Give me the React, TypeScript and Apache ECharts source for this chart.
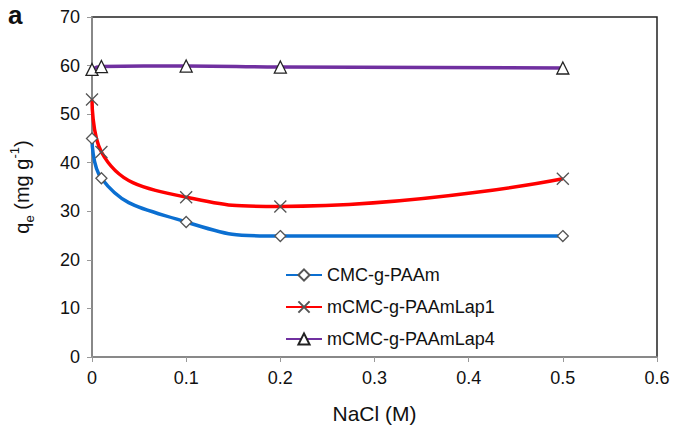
import React, { useEffect, useRef } from "react";
import * as echarts from "echarts";

const xValues = [0, 0.01, 0.1, 0.2, 0.5];
const cmcValues = [45, 36.8, 27.8, 24.9, 24.9];
const lap1Values = [53, 42.2, 32.9, 31, 36.7];
const lap4Values = [59.2, 59.8, 59.9, 59.7, 59.5];
const seriesNames = ["CMC-g-PAAm", "mCMC-g-PAAmLap1", "mCMC-g-PAAmLap4"];
const xTicks = [0, 0.1, 0.2, 0.3, 0.4, 0.5, 0.6];

const FONT = "Liberation Sans, Arial, sans-serif";
const X_PATH = "path://M0,0L10,10M10,0L0,10";

export default function App() {
  const ref = useRef<HTMLDivElement>(null);
  useEffect(() => {
    if (!ref.current) return;
    document.body.style.margin = "0";
    const chart = echarts.init(ref.current, undefined, { renderer: "svg" });
    const mk = (vals: number[]) => xValues.map((x, i) => [x, vals[i]]);
    const markerStyle = { color: "#fff", borderColor: "#555", borderWidth: 1.3 };
    chart.setOption({
      animation: false,
      backgroundColor: "#fff",
      textStyle: { fontFamily: FONT },
      grid: {
        left: 90, right: 18, top: 17, bottom: 81,
        show: true, borderColor: "#222", borderWidth: 1.5, backgroundColor: "transparent",
      },
      xAxis: {
        type: "value", min: 0, max: 0.6, interval: 0.1,
        name: "NaCl (M)", nameLocation: "middle", nameGap: 46,
        nameTextStyle: { fontSize: 21, color: "#111", fontFamily: FONT },
        axisLine: { show: true, lineStyle: { color: "#999", width: 1.5 } },
        axisTick: { show: true, length: 5, lineStyle: { color: "#999" } },
        axisLabel: {
          fontSize: 18, color: "#111", margin: 12, fontFamily: FONT,
          formatter: (v: number) => {
            const t = xTicks.find((k) => Math.abs(k - v) < 1e-9);
            return t === undefined ? "" : String(t);
          },
        },
        splitLine: { show: false },
      },
      yAxis: {
        type: "value", min: 0, max: 70, interval: 10,
        name: "{a|q}{sub|e}{a| (mg g}{sup|-1}{a|)}",
        nameLocation: "middle", nameGap: 56, nameRotate: 90,
        nameTextStyle: {
          color: "#111", fontFamily: FONT,
          rich: {
            a: { fontSize: 20, lineHeight: 28, color: "#111", fontFamily: FONT },
            sub: { fontSize: 13, verticalAlign: "bottom", lineHeight: 28, color: "#111", fontFamily: FONT },
            sup: { fontSize: 13, verticalAlign: "top", lineHeight: 28, color: "#111", fontFamily: FONT },
          },
        },
        axisLine: { show: true, lineStyle: { color: "#999", width: 1.5 } },
        axisTick: { show: true, length: 5, inside: false, lineStyle: { color: "#999" } },
        axisLabel: { fontSize: 18, color: "#111", margin: 12, fontFamily: FONT },
        splitLine: { show: false },
      },
      legend: {
        orient: "vertical", left: 280, top: 261, itemWidth: 36, itemHeight: 14, itemGap: 14,
        textStyle: { fontSize: 18, color: "#111", fontFamily: FONT },
        data: seriesNames,
      },
      graphic: [
        { type: "text", left: 8, top: 2, style: { text: "a", fontSize: 26, fontWeight: "bold", fill: "#111", fontFamily: FONT } },
      ],
      series: [
        {
          name: seriesNames[0], type: "line", data: mk(cmcValues), smooth: 0.5,
          symbol: "diamond", symbolSize: 11, showAllSymbol: true,
          lineStyle: { color: "#0b6fd1", width: 3.5 }, itemStyle: markerStyle, z: 3,
        },
        {
          name: seriesNames[1], type: "line", data: mk(lap1Values), smooth: 0.5,
          symbol: X_PATH, symbolSize: 12, showAllSymbol: true,
          lineStyle: { color: "#ff0000", width: 3.5 }, itemStyle: markerStyle, z: 3,
        },
        {
          name: seriesNames[2], type: "line", data: mk(lap4Values), smooth: 0.5,
          symbol: "triangle", symbolSize: 12, showAllSymbol: true,
          lineStyle: { color: "#7030a0", width: 3.5 }, itemStyle: { color: "#fff", borderColor: "#222", borderWidth: 1.3 }, z: 3,
        },
      ],
    });
    return () => chart.dispose();
  }, []);
  return <div ref={ref} style={{ width: 675, height: 438 }} />;
}
